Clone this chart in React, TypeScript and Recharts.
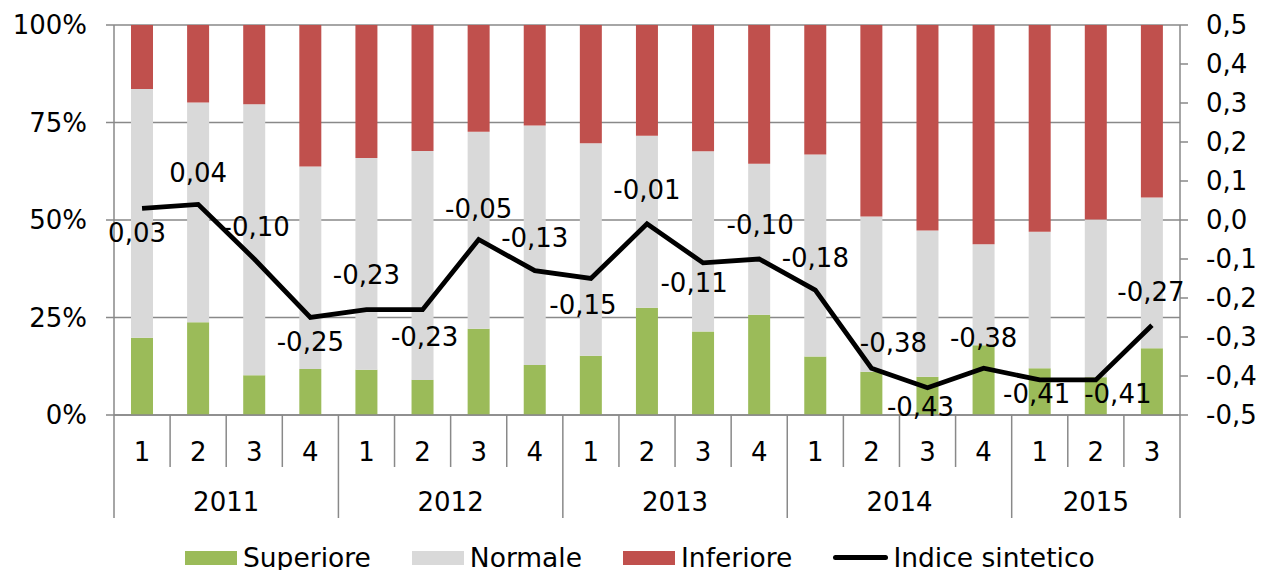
import React from "react";
import {
  Bar,
  CartesianGrid,
  ComposedChart,
  LabelList,
  Legend,
  Line,
  XAxis,
  YAxis,
} from "recharts";

const quarters = ["1", "2", "3", "4", "1", "2", "3", "4", "1", "2", "3", "4", "1", "2", "3", "4", "1", "2", "3"];
const years = [
  "2011", "2011", "2011", "2011",
  "2012", "2012", "2012", "2012",
  "2013", "2013", "2013", "2013",
  "2014", "2014", "2014", "2014",
  "2015", "2015", "2015",
];
const superiore = [19.8, 23.8, 10.2, 11.8, 11.6, 9.0, 22.1, 12.8, 15.2, 27.5, 21.4, 25.7, 15.0, 11.1, 9.8, 17.9, 12.0, 9.7, 17.1];
const normale = [63.8, 56.3, 69.5, 51.9, 54.3, 58.7, 50.5, 61.4, 54.5, 44.1, 46.2, 38.7, 51.8, 39.8, 37.5, 25.9, 35.0, 40.4, 38.7];
const inferiore = [16.4, 19.9, 20.3, 36.3, 34.1, 32.3, 27.4, 25.8, 30.3, 28.4, 32.4, 35.6, 33.2, 49.1, 52.7, 56.2, 53.0, 49.9, 44.2];
const indice = [0.03, 0.04, -0.1, -0.25, -0.23, -0.23, -0.05, -0.13, -0.15, -0.01, -0.11, -0.1, -0.18, -0.38, -0.43, -0.38, -0.41, -0.41, -0.27];

const leftTicks = [0, 25, 50, 75, 100];
const rightTicks = [-0.5, -0.4, -0.3, -0.2, -0.1, 0, 0.1, 0.2, 0.3, 0.4, 0.5];

// label placement around each line point [dx, dy]
const labelShift: [number, number][] = [
  [-5, 25], [0, -31], [2, -32], [0, 24], [0, -35], [2, 27], [0, -31], [0, -33], [-8, 26], [0, -34],
  [-9, 20], [1, -34], [0, -32], [22, -25], [-7, 19], [0, -30], [-3, 14], [22, 14], [-1, -33],
];

const GREEN = "#9BBB59";
const GREY = "#D9D9D9";
const RED = "#C0504D";
const AXIS = "#898989";
const FONT = "'DejaVu Sans', Verdana, sans-serif";

const W = 1262;
const H = 570;
const LEFT_W = 114;
const RIGHT_W = 82;
const BAND = (W - LEFT_W - RIGHT_W) / quarters.length;

const data = quarters.map((q, i) => ({
  q,
  year: years[i],
  sup: superiore[i],
  norm: normale[i],
  inf: inferiore[i],
  idx: indice[i],
}));

const fmtComma = (v: number, d: number) => v.toFixed(d).replace(".", ",");

function QuarterTick(props: any) {
  const { x, y, payload, index } = props;
  return (
    <g>
      <line x1={x - BAND / 2} x2={x - BAND / 2} y1={y} y2={y + 52} stroke={AXIS} strokeWidth={1.5} />
      {index === quarters.length - 1 && (
        <line x1={x + BAND / 2} x2={x + BAND / 2} y1={y} y2={y + 52} stroke={AXIS} strokeWidth={1.5} />
      )}
      <text x={x} y={y + 37} textAnchor="middle" dominantBaseline="central" fontSize={26} fontFamily={FONT} fill="#000">
        {payload.value}
      </text>
    </g>
  );
}

function YearTick(props: any) {
  const { x, y, payload, index } = props;
  const first = index === 0 || years[index - 1] !== years[index];
  const last = index === years.length - 1;
  const count = years.filter((yr) => yr === years[index]).length;
  return (
    <g>
      {first && (
        <>
          <line x1={x - BAND / 2} x2={x - BAND / 2} y1={y} y2={y + 51} stroke={AXIS} strokeWidth={1.5} />
          <text
            x={x + ((count - 1) * BAND) / 2}
            y={y + 35}
            textAnchor="middle"
            dominantBaseline="central"
            fontSize={26}
            fontFamily={FONT}
            fill="#000"
          >
            {payload.value}
          </text>
        </>
      )}
      {last && <line x1={x + BAND / 2} x2={x + BAND / 2} y1={y} y2={y + 51} stroke={AXIS} strokeWidth={1.5} />}
    </g>
  );
}

function PointLabel(props: any) {
  const { x, y, value, index } = props;
  const [dx, dy] = labelShift[index] ?? [0, -30];
  return (
    <text
      x={x + dx}
      y={y + dy}
      textAnchor="middle"
      dominantBaseline="central"
      fontSize={26}
      fontFamily={FONT}
      fill="#000"
    >
      {fmtComma(value, 2)}
    </text>
  );
}

const legendItems = [
  { name: "Superiore", color: GREEN, line: false },
  { name: "Normale", color: GREY, line: false },
  { name: "Inferiore", color: RED, line: false },
  { name: "Indice sintetico", color: "#000", line: true },
];

function LegendBox() {
  return (
    <div
      style={{
        height: 52,
        display: "flex",
        alignItems: "center",
        paddingLeft: 185,
        paddingTop: 27,
        boxSizing: "border-box",
        fontFamily: FONT,
        fontSize: 26.5,
        lineHeight: "26px",
        color: "#000",
      }}
    >
      {legendItems.map((it) => (
        <div key={it.name} style={{ display: "flex", alignItems: "center", marginRight: 41 }}>
          {it.line ? (
            <div style={{ width: 55, height: 5, background: it.color, borderRadius: 3, marginRight: 5 }} />
          ) : (
            <div style={{ width: 52, height: 14, background: it.color, marginRight: 6 }} />
          )}
          <span style={{ whiteSpace: "nowrap" }}>{it.name}</span>
        </div>
      ))}
    </div>
  );
}

export default function App() {
  return (
    <div style={{ width: W, height: H, background: "#fff" }}>
      <style>{"body{margin:0}"}</style>
      <ComposedChart
        width={W}
        height={H}
        data={data}
        margin={{ top: 25, right: 0, bottom: 0, left: 0 }}
        style={{ fontFamily: FONT }}
      >
        <CartesianGrid yAxisId="left" vertical={false} stroke={AXIS} strokeWidth={1.5} />
        <XAxis
          dataKey="q"
          interval={0}
          height={52}
          tickSize={0}
          tickMargin={0}
          tickLine={false}
          axisLine={{ stroke: AXIS, strokeWidth: 1.5 }}
          tick={<QuarterTick />}
        />
        <XAxis
          xAxisId="year"
          dataKey="year"
          interval={0}
          height={51}
          tickSize={0}
          tickMargin={0}
          tickLine={false}
          axisLine={false}
          tick={<YearTick />}
        />
        <YAxis
          yAxisId="left"
          width={LEFT_W}
          domain={[0, 100]}
          ticks={leftTicks}
          interval={0}
          tickSize={8}
          tickMargin={19}
          tickFormatter={(v: number) => `${v}%`}
          tick={{ fill: "#000", fontSize: 26, fontFamily: FONT }}
          tickLine={{ stroke: AXIS, strokeWidth: 1.5 }}
          axisLine={{ stroke: AXIS, strokeWidth: 1.5 }}
        />
        <YAxis
          yAxisId="right"
          orientation="right"
          width={RIGHT_W}
          domain={[-0.5, 0.5]}
          ticks={rightTicks}
          interval={0}
          tickSize={8}
          tickMargin={18}
          tickFormatter={(v: number) => fmtComma(v, 1)}
          tick={{ fill: "#000", fontSize: 26, fontFamily: FONT, textAnchor: "start" }}
          tickLine={{ stroke: AXIS, strokeWidth: 1.5 }}
          axisLine={{ stroke: AXIS, strokeWidth: 1.5 }}
        />
        <Bar yAxisId="left" dataKey="sup" name="Superiore" stackId="a" fill={GREEN} barSize={22} isAnimationActive={false} />
        <Bar yAxisId="left" dataKey="norm" name="Normale" stackId="a" fill={GREY} barSize={22} isAnimationActive={false} />
        <Bar yAxisId="left" dataKey="inf" name="Inferiore" stackId="a" fill={RED} barSize={22} isAnimationActive={false} />
        <Line
          yAxisId="right"
          dataKey="idx"
          name="Indice sintetico"
          stroke="#000"
          strokeWidth={4.8}
          dot={false}
          activeDot={false}
          isAnimationActive={false}
        >
          <LabelList dataKey="idx" content={<PointLabel />} />
        </Line>
        <Legend verticalAlign="bottom" height={52} content={<LegendBox />} wrapperStyle={{ left: 0, width: W }} />
      </ComposedChart>
    </div>
  );
}
